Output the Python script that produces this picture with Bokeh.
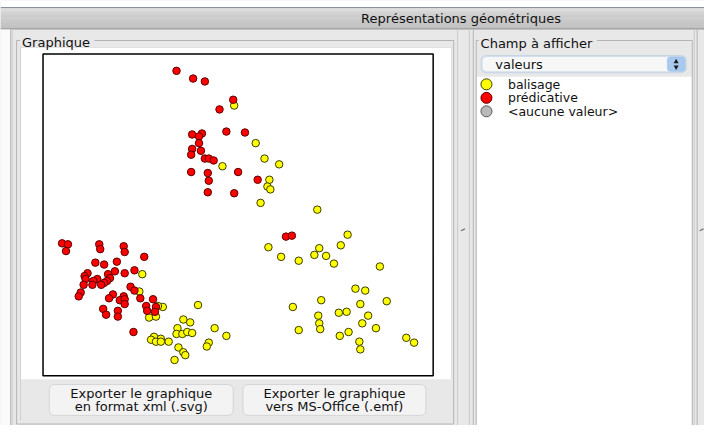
from bokeh.plotting import figure
from bokeh.models import Range1d, BoxAnnotation
from bokeh.core.properties import value
from bokeh.embed import file_html
from bokeh.resources import INLINE

# ---------------- data (factor-map coordinates) ----------------
predicative_x = [-0.60, -0.43, -0.31, -0.02, -0.16, -0.09, 0.10, -0.44, -0.34, -0.37,
                 -0.37, -0.44, -0.35, -0.45, -0.31, -0.27, -0.22, 0.03, -0.45, -0.28,
                 -0.27, -0.28, -0.01, 0.23, 0.52, 0.58,
                 -1.77, -1.71, -1.73, -1.39, -1.38, -1.14, -1.13, -0.93, -1.43, -1.34,
                 -1.21, -1.51, -1.54, -1.30, -1.23, -1.13, -1.03, -1.53, -1.41, -1.45,
                 -1.28, -1.31, -1.34, -1.37, -1.55, -1.46, -1.58, -1.60, -1.07, -1.03,
                 -1.25, -1.29, -1.14, -1.18, -1.13, -1.13, -0.97, -0.84, -0.91, -0.81,
                 -0.90, -0.82, -1.35, -1.32, -1.20, -1.20, -1.04]
predicative_y = [1.47, 1.39, 1.36, 1.17, 1.07, 0.84, 0.83, 0.81, 0.82, 0.79,
                 0.72, 0.66, 0.64, 0.60, 0.56, 0.56, 0.54, 0.42, 0.42, 0.41,
                 0.33, 0.21, 0.20, 0.34, -0.25, -0.24,
                 -0.32, -0.33, -0.40, -0.33, -0.38, -0.35, -0.41, -0.46, -0.52, -0.54,
                 -0.51, -0.63, -0.66, -0.64, -0.61, -0.63, -0.60, -0.69, -0.69, -0.71,
                 -0.68, -0.71, -0.73, -0.75, -0.75, -0.75, -0.83, -0.87, -0.77, -0.81,
                 -0.85, -0.89, -0.87, -0.91, -0.90, -0.95, -0.89, -0.90, -0.97, -0.98,
                 -1.02, -1.03, -1.00, -1.06, -1.02, -1.08, -1.24]

balisage_x = [-0.01, -0.13, 0.21, 0.30, 0.45, 0.35, 0.33, 0.36, 0.26,
              0.84, 1.15, 0.34, 1.08, 0.86, 0.47, 0.81, 0.93, 0.65, 1.01,
              1.48, 1.23, 1.33, 1.55, 0.88, 0.59, 1.28, 0.85, 1.06, 1.14,
              1.36, 0.86, 1.30, 0.87, 0.65, 1.44, 1.16, 1.07, 1.27, 1.75,
              1.83, 1.28,
              -0.95, -0.98, -0.74, -0.79, -0.88, -0.81, -0.38, -0.53, -0.46, -0.59,
              -0.21, -0.60, -0.54, -0.49, -0.44, -0.83, -0.86, -0.76, -0.81, -0.76,
              -0.68, -0.58, -0.53, -0.51, -0.62, -0.27, -0.29, -0.09]
balisage_y = [1.11, 0.48, 0.72, 0.56, 0.50, 0.34, 0.27, 0.24, 0.10,
              0.03, -0.23, -0.36, -0.34, -0.37, -0.46, -0.44, -0.45, -0.50, -0.53,
              -0.56, -0.79, -0.81, -0.92, -0.91, -0.98, -0.95, -1.07, -1.04, -1.03,
              -1.07, -1.15, -1.15, -1.21, -1.22, -1.20, -1.24, -1.28, -1.34, -1.30,
              -1.35, -1.42,
              -0.64, -0.82, -0.98, -0.97, -1.09, -1.08, -0.96, -1.11, -1.14, -1.20,
              -1.20, -1.26, -1.26, -1.24, -1.25, -1.29, -1.32, -1.31, -1.34, -1.34,
              -1.34, -1.40, -1.45, -1.48, -1.53, -1.35, -1.39, -1.28]

categories = ["balisage", "prédicative", "<aucune valeur>"]
category_colors = ["#ffff00", "#ff0000", "#b9b9b9"]
category_lines = ["#3c3c00", "#5a0000", "#555555"]

field_choice = "valeurs"
export_buttons = [("Exporter le graphique", "en format xml (.svg)"),
                  ("Exporter le graphique", "vers MS-Office (.emf)")]

# visible data extent of the plot box
X_LIM = (-1.96, 2.02)
Y_LIM = (-1.69, 1.64)

# ---------------- layout (window pixels) ----------------
WIN = (0, 0, 720, 441)            # whole window drawn into the figure
BOX = (44, 56, 442, 389)          # plot box
W, H = 704, 425

p = figure(width=W, height=H, x_range=Range1d(WIN[0], WIN[2]),
           y_range=Range1d(WIN[3], WIN[1]), output_backend="svg",
           toolbar_location=None, min_border=0,
           x_axis_location=None, y_axis_location=None)
p.grid.visible = False
p.outline_line_color = None
p.background_fill_color = "#e8e8e8"
p.border_fill_color = "#e8e8e8"

# extra ranges so that the data maps onto the plot box
sx = (X_LIM[1] - X_LIM[0]) / (BOX[2] - BOX[0])
sy = (Y_LIM[1] - Y_LIM[0]) / (BOX[3] - BOX[1])
p.extra_x_ranges = {"dx": Range1d(X_LIM[0] - (BOX[0] - WIN[0]) * sx,
                                  X_LIM[1] + (WIN[2] - BOX[2]) * sx)}
p.extra_y_ranges = {"dy": Range1d(Y_LIM[0] - (WIN[3] - BOX[3]) * sy,
                                  Y_LIM[1] + (BOX[1] - WIN[1]) * sy)}

FONT = value("DejaVu Sans")


def rect(l, t, r, b, fill, line=None, lw=1):
    p.quad(left=[l], right=[r], top=[t], bottom=[b], fill_color=fill,
           line_color=line, line_width=lw)


def hline(x0, x1, y, color, lw=1):
    p.segment(x0=[x0], x1=[x1], y0=[y], y1=[y], line_color=color, line_width=lw)


def vline(x, y0, y1, color, lw=1):
    p.segment(x0=[x], x1=[x], y0=[y0], y1=[y1], line_color=color, line_width=lw)


def txt(x, y, s, size="12px", align="left", color="#111111"):
    p.text(x=[x], y=[y], text=[s], text_font=FONT, text_font_size=size,
           text_align=align, text_baseline="middle", text_color=color)


def rbox(l, t, r, b, fill, line, lw=1, radius=5):
    p.add_layout(BoxAnnotation(left=l, right=r, top=t, bottom=b, level="underlay",
                               fill_color=fill, fill_alpha=1.0,
                               line_color=line, line_width=lw, border_radius=radius))


# top strip and title bar gradient
rect(0, 0, 720, 7, "#ffffff")
hline(0, 720, 7.5, "#6d7884")
n = 21
c0, c1 = (0xdc, 0xdc, 0xdc), (0xb4, 0xb4, 0xb4)
cols = []
for i in range(n):
    t = i / (n - 1)
    c = tuple(int(round(c0[k] + (c1[k] - c0[k]) * t)) for k in range(3))
    cols.append("#%02x%02x%02x" % c)
p.quad(left=[0] * n, right=[720] * n,
       top=[8 + i for i in range(n)], bottom=[9 + i for i in range(n)],
       fill_color=cols, line_color=None)
hline(0, 720, 29.5, "#8a8a8a")
txt(471, 18.5, "Représentations géométriques", size="13px", align="center")

# left window edge
rect(0, 30, 10, 441, "#fafafa")
vline(10.5, 30, 441, "#b0b0b0")
vline(12.5, 30, 441, "#d4d4d4")

# left group box "Graphique"
rect(20, 48, 462, 393, "#ffffff")
vline(16.5, 41.5, 439.5, "#b4b4b4")
vline(20.5, 48, 436, "#d0d0d0")
vline(463.5, 41.5, 439.5, "#b4b4b4")
vline(461.5, 48, 393, "#d8d8d8")
hline(16.5, 20, 41.5, "#b4b4b4")
hline(96, 463.5, 41.5, "#b4b4b4")
hline(16.5, 463.5, 439.5, "#b4b4b4")
hline(20.5, 462, 48.5, "#d8d8d8")
txt(22, 43.5, "Graphique", size="13px")

# plot box
rect(BOX[0] - 0.5, BOX[1] - 0.5, BOX[2] + 0.5, BOX[3] + 0.5, "#ffffff", "#000000", 1.5)

# export buttons
for (l, r), (line1, line2) in zip([(50, 238), (248, 435)], export_buttons):
    rbox(l, 398.5, r, 430.5, "#f3f3f3", "#9a9a9a", 1, 5)
    txt((l + r) / 2, 408, line1, size="13px", align="center")
    txt((l + r) / 2, 421, line2, size="13px", align="center")

# splitter between panels
vline(467.5, 30, 441, "#c8c8c8")
vline(479.5, 30, 441, "#c8c8c8")
vline(483.5, 30, 441, "#b4b4b4")
p.segment(x0=[471], x1=[475], y0=[239], y1=[237], line_color="#707070", line_width=1.2)

# right group box "Champ à afficher"
rect(487, 79, 707, 441, "#ffffff")
vline(486.5, 41.5, 441, "#b4b4b4")
vline(707.5, 41.5, 441, "#b4b4b4")
hline(486.5, 489, 41.5, "#b4b4b4")
hline(610, 707.5, 41.5, "#b4b4b4")
txt(491, 44.5, "Champ à afficher", size="13px")
vline(709.5, 30, 441, "#c8c8c8")
vline(712.5, 30, 441, "#b4b4b4")
p.segment(x0=[715], x1=[719], y0=[239], y1=[237], line_color="#707070", line_width=1.2)

# dropdown
rbox(492, 57.5, 701, 74.5, "#f7f7f7", "#7ea9dc", 2, 5)
rbox(682, 58.5, 700, 73.5, "#a9caef", "#7ea9dc", 1, 3)
p.scatter(x=[691, 691], y=[63.5, 69], marker=["triangle", "inverted_triangle"],
          size=5, fill_color="#1a1a1a", line_color=None)
txt(506, 66, field_choice, size="13px")

# legend list
leg_y = [87, 101, 115]
p.scatter(x=[497] * 3, y=leg_y, size=11, marker="circle",
          fill_color=category_colors, line_color=category_lines, line_width=1)
p.text(x=[519] * 3, y=leg_y, text=categories, text_font=FONT, text_font_size="12.5px",
       text_baseline="middle", text_color="#111111")

# ---------------- scatter points ----------------
assert len(balisage_x) == len(balisage_y)
assert len(predicative_x) == len(predicative_y)
p.scatter(x=balisage_x, y=balisage_y, size=7.5, marker="circle",
          fill_color=category_colors[0], line_color=category_lines[0], line_width=1,
          x_range_name="dx", y_range_name="dy")
p.scatter(x=predicative_x, y=predicative_y, size=7.5, marker="circle",
          fill_color=category_colors[1], line_color=category_lines[1], line_width=1,
          x_range_name="dx", y_range_name="dy")

open("out.html", "w").write(file_html(p, INLINE))
